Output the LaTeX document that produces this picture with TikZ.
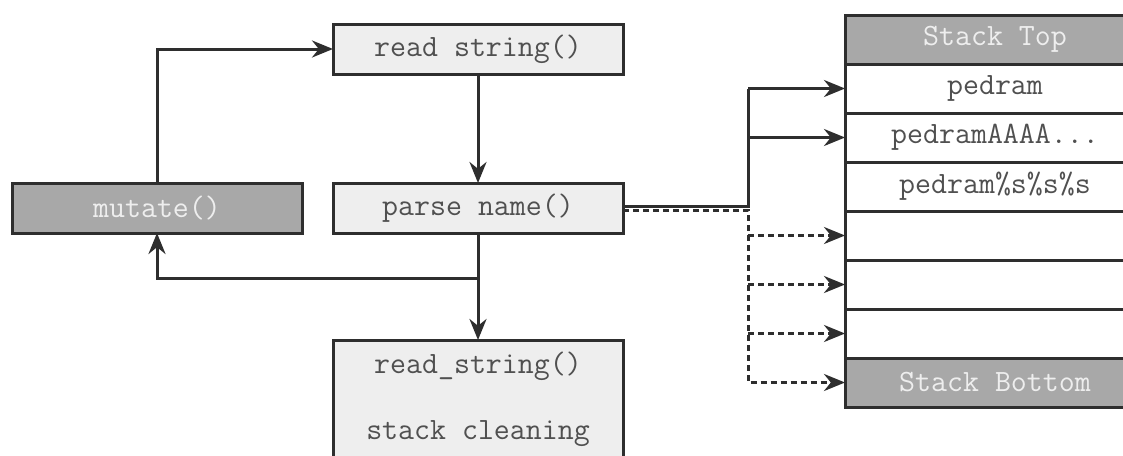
\documentclass[tikz,border=0pt]{standalone}
\usepackage{fontspec}
\usetikzlibrary{arrows.meta, positioning}
\definecolor{boxfill}{HTML}{EEEEEE}
\definecolor{darkfill}{HTML}{A8A8A8}
\definecolor{txtgray}{HTML}{505050}
\definecolor{linegray}{HTML}{2E2E2E}

\begin{document}
\begin{tikzpicture}[x=1pt, y=-1pt, >={Stealth[length=21pt, width=17pt]},
	every node/.style={font=\ttfamily\fontsize{31}{34}\selectfont},
	func/.style={draw=linegray, line width=3pt, fill=boxfill, text=txtgray, minimum width=290pt, minimum height=50pt, outer sep=0pt},
	mut/.style={func, fill=darkfill, text=boxfill},
	cell/.style={draw=linegray, line width=3pt, fill=white, text=txtgray, minimum width=300pt, minimum height=49pt, outer sep=0pt, anchor=north west},
	endcell/.style={cell, fill=darkfill, text=boxfill},
	flow/.style={->, line width=3pt, draw=linegray},
	solid line/.style={line width=3pt, draw=linegray},
	dash flow/.style={->, line width=3pt, draw=linegray, dash pattern=on 6pt off 4pt}]
			\useasboundingbox (0,0) rectangle (1123,455);
			
			% Function boxes
			\node[func] (read) at (478,49) {read string()};
			\node[func] (parse) at (478,208) {parse name()};
			\node[mut] (mutate) at (157,208) {mutate()};
			\node[func, anchor=north, minimum height=118pt, align=center] (clean) at (478,340) {read\_string()\\[32pt]stack cleaning};
			
			% Stack cells
			\node[endcell] (top) at (845,15) {Stack Top};
			\node[cell, below=0pt of top] (c1) {pedram};
			\node[cell, below=0pt of c1] (c2) {pedramAAAA...};
			\node[cell, below=0pt of c2] (c3) {pedram\%s\%s\%s};
			\node[cell, below=0pt of c3] (c4) {};
			\node[cell, below=0pt of c4] (c5) {};
			\node[cell, below=0pt of c5] (c6) {};
			\node[endcell, below=0pt of c6] (bottom) {Stack Bottom};
			
			% Junctions
			\coordinate (split) at (748,208);
			\coordinate (back) at (478,278);
			
			% Control flow
			\draw[flow] (mutate.north) |- (read.west);
			\draw[flow] (read.south) -- (parse.north);
			\draw[flow] (parse.south) -- (clean.north);
			\draw[flow] (back) -| (mutate.south);
			
			% Writes onto the stack
			\draw[solid line] ([yshift=1.5pt]parse.east) -- ([yshift=1.5pt]split) -- (split |- c1.west);
			\draw[flow] (split |- c1.west) -- (c1.west);
			\draw[flow] (split |- c2.west) -- (c2.west);
			\draw[dash flow] ([yshift=-2pt]parse.east) -- ([yshift=-2pt]split) |- (bottom.west);
			\draw[dash flow] (split |- c4.west) -- (c4.west);
			\draw[dash flow] (split |- c5.west) -- (c5.west);
			\draw[dash flow] (split |- c6.west) -- (c6.west);
		\end{tikzpicture}
\end{document}
